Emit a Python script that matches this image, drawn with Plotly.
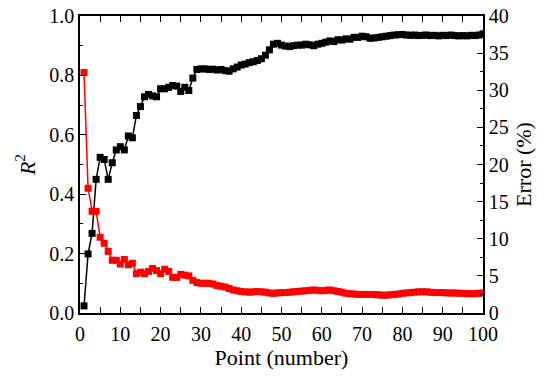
import plotly.graph_objects as go

points = list(range(1, 101))

r2 = [0.024, 0.199, 0.268, 0.45, 0.524, 0.517, 0.45, 0.506, 0.549, 0.56,
      0.549, 0.596, 0.59, 0.665, 0.695, 0.728, 0.736, 0.731, 0.728, 0.755,
      0.755, 0.76, 0.766, 0.764, 0.746, 0.76, 0.749, 0.791, 0.82, 0.822,
      0.822, 0.82, 0.821, 0.818, 0.82, 0.816, 0.814, 0.822, 0.828, 0.835,
      0.838, 0.843, 0.846, 0.85, 0.856, 0.868, 0.886, 0.905, 0.908, 0.902,
      0.899, 0.897, 0.9, 0.902, 0.902, 0.905, 0.903, 0.9, 0.905, 0.908,
      0.912, 0.916, 0.914, 0.92, 0.919, 0.923, 0.922, 0.928, 0.928, 0.932,
      0.93, 0.925, 0.926, 0.928, 0.93, 0.932, 0.934, 0.936, 0.937, 0.938,
      0.936, 0.935, 0.936, 0.934, 0.935, 0.936, 0.934, 0.935, 0.933, 0.935,
      0.934, 0.936, 0.934, 0.933, 0.934, 0.933, 0.935, 0.934, 0.936, 0.94]

error_pct = [32.4, 16.8, 13.7, 13.7, 10.2, 9.4, 8.3, 7.1, 7.1, 6.6,
             7.2, 6.5, 6.7, 5.3, 5.5, 5.3, 5.6, 6.0, 5.7, 5.3,
             5.9, 5.6, 4.8, 4.8, 5.2, 5.1, 5.0, 4.4, 4.1, 4.0,
             4.0, 4.0, 3.9, 3.7, 3.6, 3.5, 3.3, 3.1, 3.0, 2.9,
             2.85, 2.8, 2.85, 2.9, 2.85, 2.8, 2.7, 2.65, 2.7, 2.75,
             2.75, 2.8, 2.85, 2.9, 2.95, 3.0, 3.05, 3.1, 3.05, 3.0,
             3.05, 3.1, 3.0, 2.9, 2.8, 2.65, 2.6, 2.55, 2.5, 2.5,
             2.5, 2.5, 2.5, 2.45, 2.4, 2.4, 2.45, 2.5, 2.55, 2.65,
             2.7, 2.75, 2.8, 2.85, 2.85, 2.85, 2.8, 2.75, 2.75, 2.75,
             2.7, 2.7, 2.7, 2.65, 2.65, 2.6, 2.6, 2.6, 2.65, 2.7]

FONT = "Liberation Serif, Times New Roman, serif"

fig = go.Figure()
fig.add_trace(go.Scatter(
    x=points, y=error_pct, yaxis="y2", mode="lines+markers",
    line=dict(color="#ff0000", width=1.5),
    marker=dict(symbol="square", size=7, color="#ff0000"),
    showlegend=False))
fig.add_trace(go.Scatter(
    x=points, y=r2, mode="lines+markers",
    line=dict(color="#000000", width=1.5),
    marker=dict(symbol="square", size=7, color="#000000"),
    showlegend=False))

axis_common = dict(
    showline=True, linecolor="black", linewidth=1.5,
    ticks="inside", ticklen=6, tickwidth=1.2, tickcolor="black",
    showgrid=False, zeroline=False,
    ticklabeloverflow="allow",
    automargin=False,
    tickfont=dict(family=FONT, size=20, color="black"),
)

fig.update_layout(
    width=550, height=378,
    margin=dict(l=80, r=67, t=16, b=65, autoexpand=False),
    paper_bgcolor="white", plot_bgcolor="white",
    font=dict(family=FONT, color="black"),
    xaxis=dict(
        range=[0, 100], dtick=10, tick0=0, mirror="allticks",
        ticklabelstandoff=2,
        minor=dict(ticks="inside", ticklen=3, dtick=5, tickwidth=1.2, tickcolor="black"),
        title=dict(text="Point (number)", font=dict(family=FONT, size=22), standoff=6),
        **axis_common),
    yaxis=dict(
        range=[0, 1], dtick=0.2, tick0=0, tickformat=".1f",
        minor=dict(ticks="inside", ticklen=3, dtick=0.1, tickwidth=1.2, tickcolor="black"),
        title=dict(text="<i>R</i><sup>2</sup>", font=dict(family=FONT, size=22), standoff=8),
        **axis_common),
    yaxis2=dict(
        range=[0, 40], dtick=5, tick0=0, overlaying="y", side="right",
        minor=dict(ticks="inside", ticklen=3, dtick=2.5, tickwidth=1.2, tickcolor="black"),
        title=dict(text="Error (%)", font=dict(family=FONT, size=22), standoff=8),
        **axis_common),
)

# remove the browser's default 8px body margin so the figure fills the window
fig.write_html("out.html", config={"displayModeBar": False},
               post_script="document.body.style.margin='0px';")
